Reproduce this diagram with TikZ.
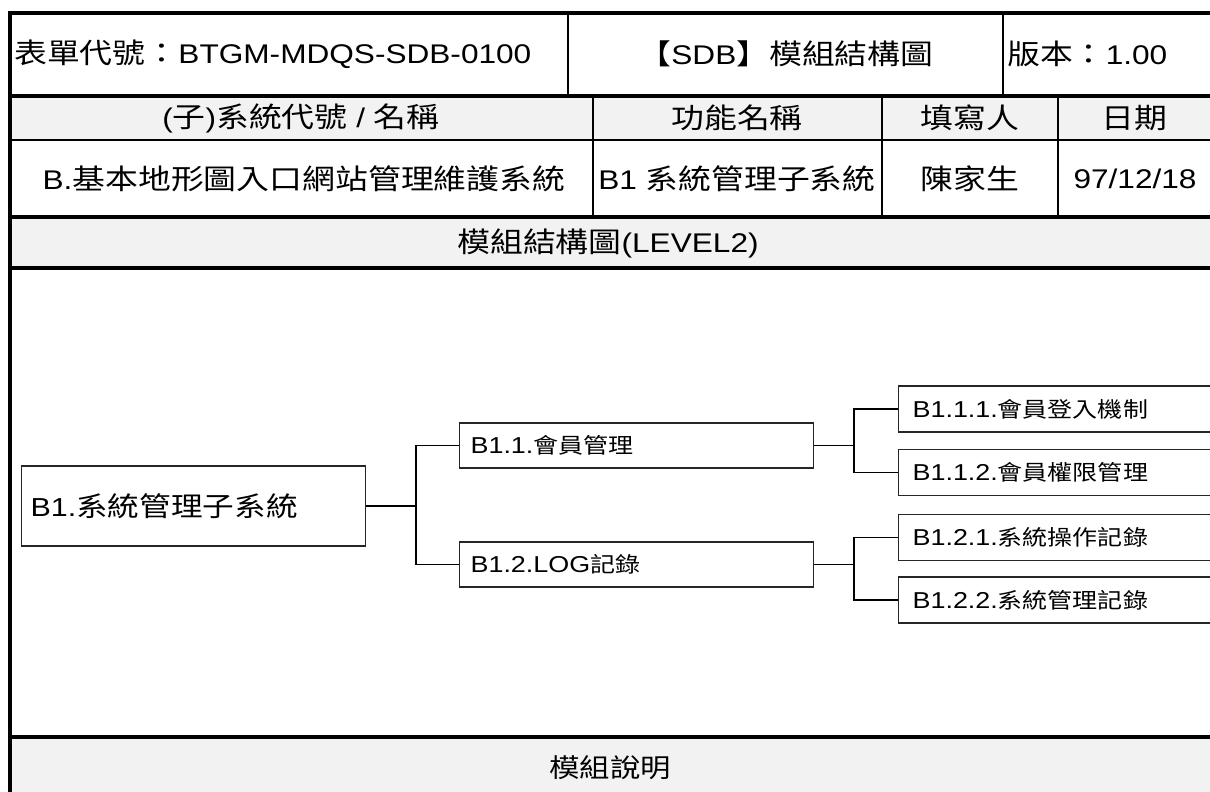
\documentclass[tikz,border=0pt]{standalone}
\usepackage{fontspec}
\setmainfont{Liberation Sans}[FakeStretch=1.17]
\newfontfamily\cjkh{Noto Sans CJK TC}[FakeStretch=1.17,Scale=1.04]
\newfontfamily\cjks{Noto Sans CJK TC}[FakeStretch=1.17,Scale=0.93]
\newcommand\zh[1]{{\cjkh #1}}
\newcommand\zs[1]{{\cjks #1}}
\definecolor{hdrgray}{HTML}{F2F2F2}
\tikzset{
  thickrule/.style={line width=4.5pt, line cap=rect},
  thinrule/.style={line width=2pt},
  hairrule/.style={line width=1.5pt},
  hdr/.style={inner sep=0pt, font={\fontsize{27}{32}\selectfont}},
  box/.style={draw=black!85, line width=1.2pt, anchor=west, align=left, inner ysep=0pt},
  boxa/.style={box, minimum height=80pt, text width=326pt, inner xsep=9pt, font={\fontsize{26}{30}\selectfont}},
  boxb/.style={box, minimum height=45pt, text width=332pt, inner xsep=11pt, font={\fontsize{23}{27}\selectfont}},
  boxc/.style={box, minimum height=46pt, text width=312pt, inner xsep=14pt, font={\fontsize{23}{27}\selectfont}},
  conn/.style={line width=1.5pt, black}
}
\begin{document}
\begin{tikzpicture}[x=1pt,y=-1pt]
\useasboundingbox (0,0) rectangle (1210,792);
\clip (0,0) rectangle (1210,792);
% gray rows
\fill[hdrgray] (10,96) rectangle (1220,140);
\fill[hdrgray] (10,217) rectangle (1220,268);
\fill[hdrgray] (10,737) rectangle (1220,800);
% thick horizontal rules
\draw[thickrule] (10,13) -- (1220,13);
\draw[thickrule] (10,96) -- (1220,96);
\draw[thickrule] (10,217) -- (1220,217);
\draw[thickrule] (10,268) -- (1220,268);
\draw[thickrule] (10,737) -- (1220,737);
% left border
\draw[thickrule] (10,13) -- (10,800);
% thin rules
\draw[hairrule] (10,140) -- (1220,140);
\draw[thinrule] (568,13) -- (568,96);
\draw[thinrule] (1003,13) -- (1003,96);
\draw[thinrule] (593,96) -- (593,217);
\draw[thinrule] (882,96) -- (882,217);
\draw[thinrule] (1058,96) -- (1058,217);

% row 1
\node[hdr, anchor=west] (formno) at (14,54) {\zh{表單代號：}BTGM-MDQS-SDB-0100};
\node[hdr] (title) at (786,54) {\zh{【}SDB\zh{】模組結構圖}};
\node[hdr, anchor=west] (ver) at (1007,54) {\zh{版本：}1.00};
% row 2
\node[hdr] (h1) at (301,118) {(\zh{子})\zh{系統代號} / \zh{名稱}};
\node[hdr] (h2) at (737,118) {\zh{功能名稱}};
\node[hdr] (h3) at (970,118) {\zh{填寫人}};
\node[hdr] (h4) at (1134,118) {\zh{日期}};
% row 3
\node[hdr] (v1) at (304,179) {B.\zh{基本地形圖入口網站管理維護系統}};
\node[hdr] (v2) at (737,179) {B1 \zh{系統管理子系統}};
\node[hdr] (v3) at (970,179) {\zh{陳家生}};
\node[hdr] (v4) at (1135,179) {97/12/18};
% row 4
\node[hdr] (lvl) at (608,243) {\zh{模組結構圖}(LEVEL2)};
% last row
\node[inner sep=0pt, font={\fontsize{25}{30}\selectfont}] (desc) at (610,768) {\zh{模組說明}};

% diagram
\node[boxa] (b1) at (21,506) {B1.\zh{系統管理子系統}};
\node[boxb] (b11) at (459,445.5) {B1.1.\zs{會員管理}};
\node[boxb] (b12) at (459,564.5) {B1.2.LOG\zs{記錄}};
\node[boxc] (b111) at (898,409) {B1.1.1.\zs{會員登入機制}};
\node[boxc] (b112) at (898,472.5) {B1.1.2.\zs{會員權限管理}};
\node[boxc] (b121) at (898,537.5) {B1.2.1.\zs{系統操作記錄}};
\node[boxc] (b122) at (898,600) {B1.2.2.\zs{系統管理記錄}};

\draw[conn] (b1.east) -- ++(50,0) coordinate (j1) |- (b11.west);
\draw[conn] (j1) |- (b12.west);
\draw[conn] (b11.east) -- ++(40,0) coordinate (j2) |- (b111.west);
\draw[conn] (j2) |- (b112.west);
\draw[conn] (b12.east) -- ++(40,0) coordinate (j3) |- (b121.west);
\draw[conn] (j3) |- (b122.west);
\end{tikzpicture}
\end{document}
